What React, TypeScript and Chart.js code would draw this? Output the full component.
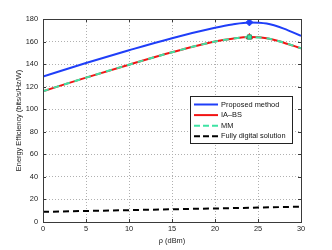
import React, { useEffect, useRef } from "react";
import { Chart, registerables } from "chart.js";

Chart.register(...registerables);

const xCurve = [0, 5, 10, 15, 20, 22, 24, 26, 28, 30];
const proposed = [129, 141, 152.3, 163, 172.2, 175.2, 177, 176, 171.5, 165];
const iabs = [116, 128, 139.5, 150.5, 160, 162.5, 164, 163, 159, 154];
const mm = [116, 128, 139.5, 150.5, 160, 162.5, 164, 163, 159, 154];
const xDigital = [0, 5, 10, 15, 20, 25, 30];
const digital = [9, 9.8, 10.5, 11.3, 12, 12.8, 13.6];
const peakX = 24;
const peakProposed = 177;
const peakIabs = 164;
const xTicks = [0, 5, 10, 15, 20, 25, 30];
const yTicks = [0, 20, 40, 60, 80, 100, 120, 140, 160, 180];

const labels = ["Proposed method", "IA\u2013BS", "MM", "Fully digital solution"];
const BLUE = "#1f3ef8";
const RED = "#f21414";
const GREEN = "#3ee3a4";
const BLACK = "#000000";
const FONT = "Liberation Sans, Arial, sans-serif";
const FS = 7.4;

const toPts = (xs: number[], ys: number[]) => xs.map((x, i) => ({ x, y: ys[i] }));

const boxPlugin = {
  id: "boxPlugin",
  afterDraw(chart: any) {
    const { ctx, chartArea: a } = chart;
    const xs = chart.scales.x;
    const ys = chart.scales.y;
    ctx.save();
    ctx.strokeStyle = "#3a3a3a";
    ctx.lineWidth = 1;
    ctx.strokeRect(Math.round(a.left) + 0.5, Math.round(a.top) + 0.5, Math.round(a.right - a.left), Math.round(a.bottom - a.top));
    ctx.beginPath();
    xTicks.forEach((t) => {
      const px = Math.round(xs.getPixelForValue(t)) + 0.5;
      ctx.moveTo(px, a.bottom);
      ctx.lineTo(px, a.bottom - 3);
      ctx.moveTo(px, a.top);
      ctx.lineTo(px, a.top + 3);
    });
    yTicks.forEach((t) => {
      const py = Math.round(ys.getPixelForValue(t)) + 0.5;
      ctx.moveTo(a.left, py);
      ctx.lineTo(a.left + 3, py);
      ctx.moveTo(a.right, py);
      ctx.lineTo(a.right - 3, py);
    });
    ctx.stroke();

    // legend
    const lx = 190.5, ly = 96.5, lw = 102, lh = 47;
    ctx.fillStyle = "#ffffff";
    ctx.fillRect(lx, ly, lw, lh);
    ctx.strokeStyle = "#222";
    ctx.strokeRect(lx, ly, lw, lh);
    const items = [
      { c: BLUE, dash: [] as number[] },
      { c: RED, dash: [] as number[] },
      { c: GREEN, dash: [6, 3] },
      { c: BLACK, dash: [6, 3] },
    ];
    ctx.font = `${FS}px ${FONT}`;
    ctx.textBaseline = "middle";
    items.forEach((it, i) => {
      const y = 104.5 + i * 10.6;
      ctx.beginPath();
      ctx.setLineDash(it.dash);
      ctx.strokeStyle = it.c;
      ctx.lineWidth = 2;
      ctx.moveTo(194, y);
      ctx.lineTo(218, y);
      ctx.stroke();
      ctx.setLineDash([]);
      ctx.fillStyle = "#111";
      ctx.fillText(labels[i], 221, y);
    });
    ctx.restore();
  },
};

export default function App() {
  const ref = useRef<HTMLCanvasElement | null>(null);
  useEffect(() => {
    if (!ref.current) return;
    const chart = new Chart(ref.current, {
      type: "line",
      data: {
        datasets: [
          {
            label: labels[3],
            data: toPts(xDigital, digital),
            borderColor: BLACK,
            borderWidth: 2,
            borderDash: [6, 4],
            pointRadius: 0,
            order: 5,
          },
          {
            label: labels[0],
            data: toPts(xCurve, proposed),
            borderColor: BLUE,
            borderWidth: 2,
            pointRadius: 0,
            cubicInterpolationMode: "monotone",
            order: 4,
          },
          {
            label: labels[1],
            data: toPts(xCurve, iabs),
            borderColor: RED,
            borderWidth: 2,
            pointRadius: 0,
            cubicInterpolationMode: "monotone",
            order: 3,
          },
          {
            label: labels[2],
            data: toPts(xCurve, mm),
            borderColor: GREEN,
            borderWidth: 2,
            borderDash: [6, 5],
            pointRadius: 0,
            cubicInterpolationMode: "monotone",
            order: 2,
          },
          {
            label: "peak1",
            data: [{ x: peakX, y: peakProposed }],
            showLine: false,
            pointStyle: "rectRot",
            pointRadius: 3.5,
            pointBackgroundColor: BLUE,
            pointBorderColor: BLUE,
            order: 1,
          },
          {
            label: "peak2",
            data: [{ x: peakX, y: peakIabs }],
            showLine: false,
            pointStyle: "triangle",
            pointRadius: 3.5,
            pointBackgroundColor: RED,
            pointBorderColor: RED,
            order: 1,
          },
          {
            label: "peak3",
            data: [{ x: peakX, y: peakIabs }],
            showLine: false,
            pointStyle: "rect",
            pointRadius: 3,
            pointBackgroundColor: GREEN,
            pointBorderColor: "#2aa877",
            pointBorderWidth: 1,
            order: 0,
          },
        ],
      },
      options: {
        responsive: false,
        animation: false,
        layout: { padding: { top: 19, right: 31, left: 0, bottom: 0 } },
        plugins: { legend: { display: false }, tooltip: { enabled: false } },
        scales: {
          x: {
            type: "linear",
            min: 0,
            max: 30,
            afterFit: (s: any) => {
              s.height = 28;
            },
            afterBuildTicks: (s: any) => {
              s.ticks = xTicks.map((v) => ({ value: v }));
            },
            ticks: { padding: 3, color: "#222", font: { size: FS, family: FONT } },
            grid: { color: "#b0b0b0", drawTicks: false, lineWidth: 1 },
            border: { display: false, dash: [1, 2] },
            title: {
              display: true,
              text: "\u03c1 (dBm)",
              color: "#222",
              font: { size: FS, family: FONT },
              padding: { top: 0, bottom: 5 },
            },
          },
          y: {
            type: "linear",
            min: 0,
            max: 180,
            afterFit: (s: any) => {
              s.width = 43;
            },
            afterBuildTicks: (s: any) => {
              s.ticks = yTicks.map((v) => ({ value: v }));
            },
            ticks: { padding: 5, color: "#222", font: { size: FS, family: FONT } },
            grid: { color: "#b0b0b0", drawTicks: false, lineWidth: 1 },
            border: { display: false, dash: [1, 2] },
            title: {
              display: true,
              text: "Energy Efficiency (bits/s/Hz/W)",
              color: "#222",
              font: { size: FS, family: FONT },
              padding: { top: 15, bottom: 0 },
            },
          },
        },
      },
      plugins: [boxPlugin],
    } as any);
    return () => chart.destroy();
  }, []);
  return (
    <div style={{ position: "fixed", left: 0, top: 0, width: 332, height: 250, background: "#fff" }}>
      <canvas ref={ref} width={332} height={250} />
    </div>
  );
}
